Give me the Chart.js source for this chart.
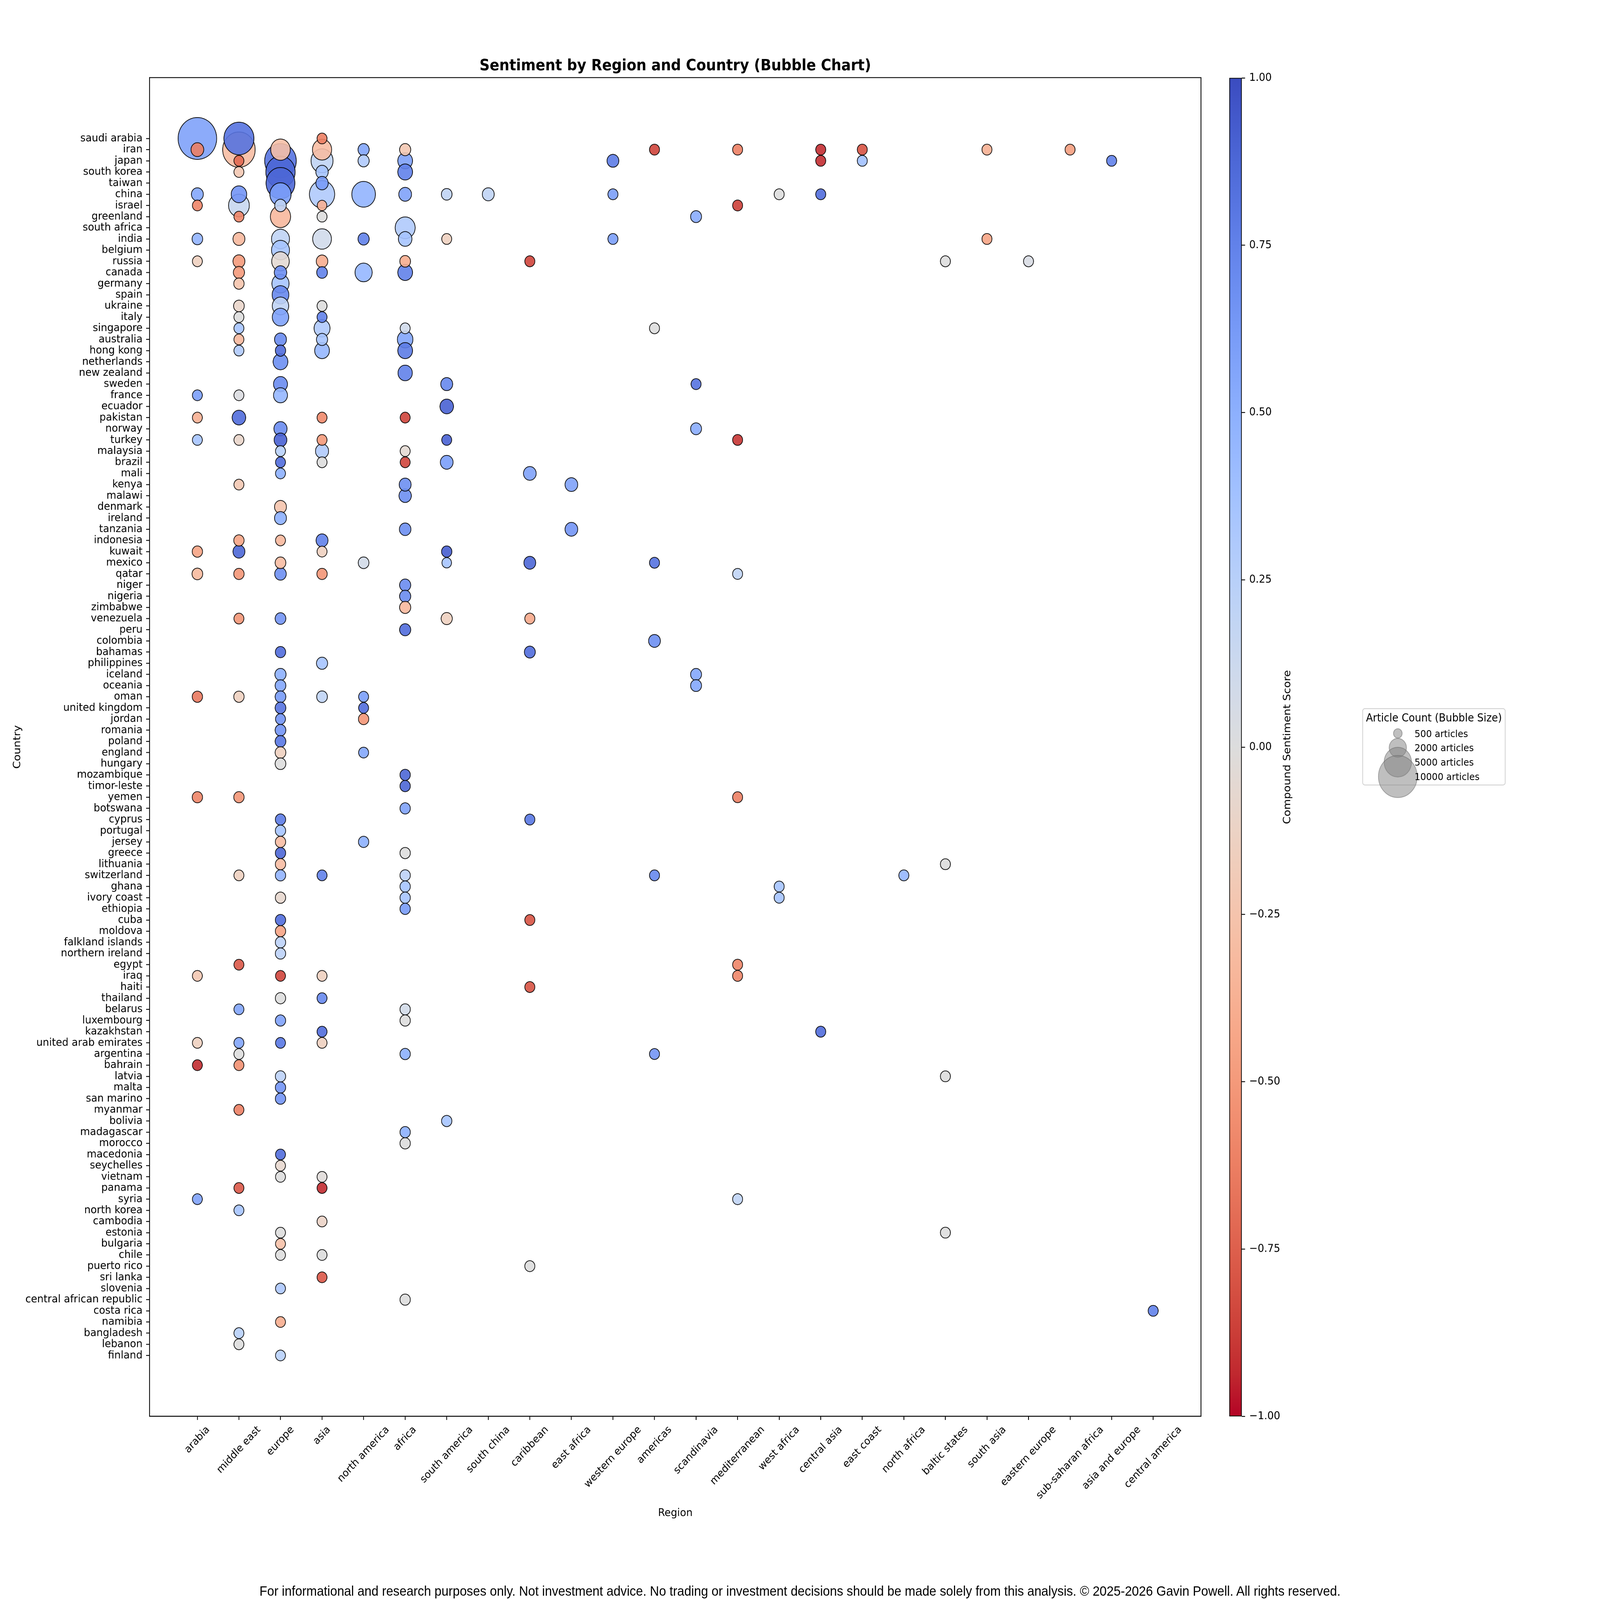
<!DOCTYPE html>
<html><head><meta charset="utf-8">
<script src="https://cdn.jsdelivr.net/npm/chart.js@4.4.1/dist/chart.umd.min.js"></script>
<style>
html,body{margin:0;padding:0;background:#fff;overflow:hidden;}
#wrap{position:relative;width:6600px;height:6080px;overflow:hidden;background:#fff;transform-origin:0 0;}
#main{position:absolute;left:0;top:0;}
#cbar{position:absolute;left:5000px;top:0;}
#overlay{position:absolute;left:0;top:0;pointer-events:none;}
</style></head>
<body><div id="wrap">
<canvas id="main" width="6600" height="6080"></canvas>
<canvas id="cbar" width="600" height="6080"></canvas>
<svg id="overlay" width="6600" height="6080" xmlns="http://www.w3.org/2000/svg"></svg>
</div>
<script>
// ---------------- DATA ----------------
const chartTitle = "Sentiment by Region and Country (Bubble Chart)";
const xTitle = "Region";
const yTitle = "Country";
const cbarTitle = "Compound Sentiment Score";
const legendTitle = "Article Count (Bubble Size)";
const legendCounts = [500, 2000, 5000, 10000];
const footerText = "For informational and research purposes only. Not investment advice. No trading or investment decisions should be made solely from this analysis. \u00A9 2025-2026 Gavin Powell. All rights reserved.";
const cbarTicks = [-1, -0.75, -0.5, -0.25, 0, 0.25, 0.5, 0.75, 1];

const regions = ["arabia","middle east","europe","asia","north america","africa","south america","south china","caribbean","east africa","western europe","americas","scandinavia","mediterranean","west africa","central asia","east coast","north africa","baltic states","south asia","eastern europe","sub-saharan africa","asia and europe","central america"];

const countries = ["saudi arabia","iran","japan","south korea","taiwan","china","israel","greenland","south africa","india","belgium","russia","canada","germany","spain","ukraine","italy","singapore","australia","hong kong","netherlands","new zealand","sweden","france","ecuador","pakistan","norway","turkey","malaysia","brazil","mali","kenya","malawi","denmark","ireland","tanzania","indonesia","kuwait","mexico","qatar","niger","nigeria","zimbabwe","venezuela","peru","colombia","bahamas","philippines","iceland","oceania","oman","united kingdom","jordan","romania","poland","england","hungary","mozambique","timor-leste","yemen","botswana","cyprus","portugal","jersey","greece","lithuania","switzerland","ghana","ivory coast","ethiopia","cuba","moldova","falkland islands","northern ireland","egypt","iraq","haiti","thailand","belarus","luxembourg","kazakhstan","united arab emirates","argentina","bahrain","latvia","malta","san marino","myanmar","bolivia","madagascar","morocco","macedonia","seychelles","vietnam","panama","syria","north korea","cambodia","estonia","bulgaria","chile","puerto rico","sri lanka","slovenia","central african republic","costa rica","namibia","bangladesh","lebanon","finland"];

// [country, compound sentiment, article count]
const arabiaPts = [["saudi arabia",0.58,9900],["iran",-0.62,1085],["china",0.55,955],["israel",-0.6,660],["india",0.47,760],["russia",-0.15,660],["france",0.6,660],["pakistan",-0.38,660],["turkey",0.36,660],["kuwait",-0.45,715],["qatar",-0.32,770],["oman",-0.65,715],["yemen",-0.6,715],["iraq",-0.22,660],["united arab emirates",-0.15,660],["bahrain",-0.93,660],["syria",0.58,660]];
const middleEastPts = [["saudi arabia",0.82,6000],["iran",-0.3,7030],["japan",-0.72,660],["south korea",-0.22,660],["china",0.65,1615],["israel",0.15,2880],["greenland",-0.6,660],["india",-0.33,955],["russia",-0.5,955],["canada",-0.5,830],["germany",-0.25,715],["ukraine",-0.1,770],["italy",0.0,660],["singapore",0.36,660],["australia",-0.33,660],["hong kong",0.3,660],["france",0.02,660],["pakistan",0.85,1225],["turkey",-0.1,660],["kenya",-0.22,660],["indonesia",-0.45,715],["kuwait",0.88,955],["qatar",-0.52,715],["venezuela",-0.52,660],["oman",-0.15,715],["yemen",-0.52,715],["switzerland",-0.15,660],["egypt",-0.78,660],["belarus",0.56,660],["united arab emirates",0.56,660],["argentina",0.0,660],["bahrain",-0.55,660],["myanmar",-0.62,660],["panama",-0.78,660],["north korea",0.36,660],["bangladesh",0.25,660],["lebanon",0.0,660]];
const europePts = [["iran",-0.28,2560],["japan",0.82,6640],["south korea",0.88,5690],["taiwan",0.88,5520],["china",0.6,2995],["israel",0.2,890],["greenland",-0.33,2720],["india",0.2,2155],["belgium",0.36,2155],["russia",-0.05,2060],["canada",0.68,1020],["germany",0.36,1970],["spain",0.72,1875],["ukraine",0.2,1790],["italy",0.58,1790],["australia",0.7,955],["hong kong",0.85,715],["netherlands",0.68,1455],["sweden",0.7,1300],["france",0.45,1300],["norway",0.7,1155],["turkey",0.9,1085],["malaysia",0.25,660],["brazil",0.85,660],["mali",0.5,660],["denmark",-0.25,955],["ireland",0.5,955],["indonesia",-0.33,660],["mexico",-0.3,770],["qatar",0.68,890],["venezuela",0.65,770],["bahamas",0.85,715],["iceland",0.5,830],["oceania",0.55,770],["oman",0.62,770],["united kingdom",0.82,770],["jordan",0.65,660],["romania",0.65,770],["poland",0.8,770],["england",-0.15,770],["hungary",0.0,770],["cyprus",0.78,715],["portugal",0.36,715],["jersey",-0.3,715],["greece",0.88,715],["lithuania",-0.3,715],["switzerland",0.47,715],["ivory coast",-0.08,715],["cuba",0.85,715],["moldova",-0.45,715],["falkland islands",0.22,715],["northern ireland",0.22,715],["iraq",-0.85,660],["thailand",0.0,715],["luxembourg",0.58,715],["united arab emirates",0.8,660],["latvia",0.22,715],["malta",0.65,715],["san marino",0.65,715],["macedonia",0.85,660],["seychelles",-0.08,660],["vietnam",0.0,660],["estonia",0.0,660],["bulgaria",-0.27,660],["chile",0.0,660],["slovenia",0.32,660],["namibia",-0.4,660],["finland",0.25,660]];
const asiaPts = [["saudi arabia",-0.62,660],["iran",-0.3,2455],["japan",0.2,3225],["south korea",0.36,1020],["taiwan",0.62,1020],["china",0.3,4230],["israel",-0.38,610],["greenland",0.0,660],["india",0.1,2350],["russia",-0.4,890],["canada",0.75,770],["ukraine",0.0,660],["italy",0.75,660],["singapore",0.3,1700],["australia",0.36,830],["hong kong",0.45,1455],["pakistan",-0.58,660],["turkey",-0.5,660],["malaysia",0.3,1155],["brazil",0.0,660],["indonesia",0.75,955],["kuwait",-0.15,660],["qatar",-0.52,715],["philippines",0.36,830],["oman",0.2,770],["switzerland",0.75,660],["iraq",-0.15,660],["thailand",0.72,660],["kazakhstan",0.85,660],["united arab emirates",-0.15,660],["vietnam",-0.02,660],["panama",-0.93,660],["cambodia",-0.12,660],["chile",0.0,660],["sri lanka",-0.78,660]];
const northAmericaPts = [["iran",0.56,830],["japan",0.3,830],["china",0.47,3710],["india",0.75,830],["canada",0.45,1970],["mexico",0.08,770],["oman",0.6,660],["united kingdom",0.85,660],["jordan",-0.52,715],["england",0.55,660],["jersey",0.5,715]];
const africaPts = [["iran",-0.22,830],["japan",0.58,1455],["south korea",0.75,1455],["china",0.58,1085],["south africa",0.3,2665],["india",0.36,1225],["russia",-0.4,770],["canada",0.75,1455],["singapore",0.1,660],["australia",0.56,1615],["hong kong",0.78,1455],["new zealand",0.75,1375],["pakistan",-0.85,660],["malaysia",-0.05,660],["brazil",-0.85,660],["kenya",0.68,955],["malawi",0.68,1020],["tanzania",0.68,890],["niger",0.7,830],["nigeria",0.7,830],["zimbabwe",-0.33,830],["peru",0.85,830],["mozambique",0.88,715],["timor-leste",0.88,715],["botswana",0.58,715],["greece",0.0,715],["switzerland",0.22,715],["ghana",0.36,715],["ivory coast",0.36,715],["ethiopia",0.62,715],["belarus",0.08,715],["luxembourg",0.0,715],["argentina",0.5,715],["madagascar",0.5,715],["morocco",0.0,715],["central african republic",0.0,715]];
const southAmericaPts = [["china",0.2,770],["india",-0.15,660],["sweden",0.72,955],["ecuador",0.9,1225],["turkey",0.9,660],["brazil",0.6,1085],["kuwait",0.92,715],["mexico",0.36,610],["venezuela",-0.15,830],["bolivia",0.36,715]];
const southChinaPts = [["china",0.2,955]];
const caribbeanPts = [["russia",-0.85,675],["mali",0.58,1075],["mexico",0.88,935],["venezuela",-0.42,675],["bahamas",0.85,800],["cyprus",0.8,675],["cuba",-0.8,675],["haiti",-0.8,675],["puerto rico",0.0,675]];
const eastAfricaPts = [["kenya",0.58,1075],["tanzania",0.65,1075]];
const westernEuropePts = [["japan",0.78,935],["china",0.6,675],["india",0.6,675]];
const americasPts = [["iran",-0.85,675],["singapore",0.0,675],["mexico",0.82,675],["colombia",0.68,935],["switzerland",0.72,675],["argentina",0.65,675]];
const scandinaviaPts = [["greenland",0.52,800],["sweden",0.82,675],["norway",0.52,800],["iceland",0.55,800],["oceania",0.55,800]];
const mediterraneanPts = [["iran",-0.62,675],["israel",-0.87,675],["turkey",-0.9,675],["qatar",0.2,675],["yemen",-0.62,675],["egypt",-0.6,675],["iraq",-0.6,675],["syria",0.2,675]];
const westAfricaPts = [["china",0.0,675],["ghana",0.36,675],["ivory coast",0.36,675]];
const centralAsiaPts = [["iran",-0.92,675],["japan",-0.92,675],["china",0.85,675],["kazakhstan",0.85,675]];
const eastCoastPts = [["iran",-0.8,675],["japan",0.38,675]];
const northAfricaPts = [["switzerland",0.45,675]];
const balticStatesPts = [["russia",0.0,675],["lithuania",0.0,675],["latvia",0.0,675],["estonia",0.0,675]];
const southAsiaPts = [["iran",-0.38,675],["india",-0.45,675]];
const easternEuropePts = [["russia",0.04,675]];
const subSaharanAfricaPts = [["iran",-0.48,675]];
const asiaAndEuropePts = [["japan",0.75,675]];
const centralAmericaPts = [["costa rica",0.75,675]];

const regionSeries = [arabiaPts, middleEastPts, europePts, asiaPts, northAmericaPts, africaPts, southAmericaPts, southChinaPts, caribbeanPts, eastAfricaPts, westernEuropePts, americasPts, scandinaviaPts, mediterraneanPts, westAfricaPts, centralAsiaPts, eastCoastPts, northAfricaPts, balticStatesPts, southAsiaPts, easternEuropePts, subSaharanAfricaPts, asiaAndEuropePts, centralAmericaPts];

// ---------------- STYLE ----------------
const FONT = "'DejaVu Sans', 'Noto Sans', sans-serif";
const BUBBLE_ALPHA = 0.9;
const XLABEL_SIZE = 40;
const coolwarm = [[59,76,192],[68,90,204],[77,104,215],[87,117,225],[98,130,234],[108,142,241],[119,154,247],[130,165,251],[141,176,254],[152,185,255],[163,194,255],[174,201,253],[184,208,249],[194,213,244],[204,217,238],[213,219,230],[221,221,221],[229,216,209],[236,211,197],[241,204,185],[245,196,173],[247,187,160],[247,177,148],[247,166,135],[244,154,123],[241,141,111],[236,127,99],[229,112,88],[222,96,77],[213,80,66],[203,62,56],[192,40,47],[180,4,38]];
function cmap(v) {
  let t = (1 - v) / 2; t = Math.max(0, Math.min(1, t));
  const p = t * (coolwarm.length - 1); const i = Math.min(Math.floor(p), coolwarm.length - 2); const f = p - i;
  const a = coolwarm[i], b = coolwarm[i + 1];
  return [0,1,2].map(k => Math.round(a[k] + (b[k] - a[k]) * f));
}
const sizeFor = n => 0.8 * Math.sqrt(n);

const pts = [];
regionSeries.forEach((arr, ri) => arr.forEach(([c, s, n]) => {
  const ci = countries.indexOf(c);
  if (ci >= 0) pts.push({x: ri, y: ci, r: sizeFor(n), s: s, n: n});
}));
pts.sort((a, b) => b.n - a.n);

const plotFrame = {
  id: 'plotFrame',
  afterDraw(chart) {
    const ctx = chart.ctx, area = chart.chartArea, xs = chart.scales.x;
    ctx.save();
    ctx.fillStyle = '#000';
    ctx.font = XLABEL_SIZE + "px " + FONT;
    ctx.textAlign = 'center'; ctx.textBaseline = 'middle';
    const h = XLABEL_SIZE * 1.1;
    regions.forEach((lab, i) => {
      const L = ctx.measureText(lab).width;
      const bh = (L + h) * Math.SQRT1_2;
      const cx = xs.getPixelForValue(i);
      const cy = area.bottom + 14.6 + 14.6 + bh / 2;
      ctx.save(); ctx.translate(cx, cy); ctx.rotate(-Math.PI / 4); ctx.fillText(lab, 0, 0); ctx.restore();
    });
    ctx.strokeStyle = '#000'; ctx.lineWidth = 3.3;
    ctx.strokeRect(area.left, area.top, area.right - area.left, area.bottom - area.top);
    ctx.restore();
  }
};

new Chart(document.getElementById('main'), {
  type: 'bubble',
  data: { datasets: [{
    data: pts.map(p => ({x: p.x, y: p.y, r: p.r})),
    backgroundColor: pts.map(p => { const c = cmap(p.s); return `rgba(${c[0]},${c[1]},${c[2]},${BUBBLE_ALPHA})`; }),
    borderColor: 'rgba(0,0,0,0.9)',
    borderWidth: 3
  }]},
  options: {
    responsive: false, animation: false, devicePixelRatio: 1, events: [],
    layout: { padding: { left: 47, top: 0, right: 1646, bottom: 305 } },
    plugins: {
      legend: { display: false }, tooltip: { enabled: false },
      title: { display: true, text: chartTitle, fullSize: false, color: '#000',
        font: { family: FONT, size: 58.3, weight: 'bold', lineHeight: 1.2 },
        padding: { top: 217, bottom: 8 } }
    },
    scales: {
      x: { type: 'linear', min: -1.15, max: 24.15,
        afterBuildTicks: s => { s.ticks = regions.map((_, i) => ({ value: i })); },
        afterFit: s => { s.height = 393; },
        ticks: { callback: () => '', autoSkip: false, padding: 0 },
        grid: { display: true, drawOnChartArea: false, drawTicks: true, tickLength: 14, tickWidth: 3.3, tickColor: '#000' },
        border: { display: true, color: '#000', width: 3.3 },
        title: { display: true, text: xTitle, color: '#000', font: { family: FONT, size: 41.7, lineHeight: 1.2 }, padding: 0 }
      },
      y: { type: 'linear', reverse: true, min: -5.45, max: 114.45,
        afterBuildTicks: s => { s.ticks = countries.map((_, i) => ({ value: i })); },
        afterFit: s => { s.width = 570; },
        ticks: { callback: v => countries[v] || '', autoSkip: false, padding: 15, color: '#000', font: { family: FONT, size: 41.7 } },
        grid: { display: true, drawOnChartArea: false, drawTicks: true, tickLength: 14, tickWidth: 3.3, tickColor: '#000' },
        border: { display: true, color: '#000', width: 3.3 },
        title: { display: true, text: yTitle, color: '#000', font: { family: FONT, size: 41.7, lineHeight: 1.2 }, padding: 0 }
      }
    }
  },
  plugins: [plotFrame]
});

const cbarLabel = {
  id: 'cbarLabel',
  afterDraw(chart) {
    const ctx = chart.ctx, a = chart.chartArea;
    ctx.save(); ctx.fillStyle = '#000'; ctx.font = "41.7px " + FONT;
    ctx.textAlign = 'center'; ctx.textBaseline = 'middle';
    ctx.translate(311, (a.top + a.bottom) / 2); ctx.rotate(-Math.PI / 2);
    ctx.fillText(cbarTitle, 0, 0); ctx.restore();
  }
};
new Chart(document.getElementById('cbar'), {
  type: 'bar',
  data: { labels: [''], datasets: [{
    data: [[-1, 1]],
    backgroundColor: c => {
      const a = c.chart.chartArea; if (!a) return '#888';
      const g = c.chart.ctx.createLinearGradient(0, a.top, 0, a.bottom);
      coolwarm.forEach((col, i) => g.addColorStop(i / (coolwarm.length - 1), `rgb(${col[0]},${col[1]},${col[2]})`));
      return g;
    },
    borderColor: '#000', borderWidth: 3, borderSkipped: false,
    barPercentage: 1, categoryPercentage: 1
  }]},
  options: {
    responsive: false, animation: false, devicePixelRatio: 1, events: [],
    layout: { padding: { left: 71, top: 296, right: 178, bottom: 698 } },
    plugins: { legend: { display: false }, tooltip: { enabled: false } },
    scales: {
      x: { display: false },
      y: { position: 'right', min: -1, max: 1,
        afterBuildTicks: s => { s.ticks = cbarTicks.map(v => ({ value: v })); },
        afterFit: s => { s.width = 300; },
        ticks: { callback: v => (v < 0 ? '\u2212' : '') + Math.abs(v).toFixed(2), color: '#000', padding: 17, font: { family: FONT, size: 41.7 } },
        grid: { display: true, drawOnChartArea: false, drawTicks: true, tickLength: 14, tickWidth: 3.3, tickColor: '#000' },
        border: { display: false }
      }
    }
  },
  plugins: [cbarLabel]
});

(function () {
  const NS = 'http://www.w3.org/2000/svg';
  const svg = document.getElementById('overlay');
  const el = (tag, attrs, text) => { const e = document.createElementNS(NS, tag); for (const k in attrs) e.setAttribute(k, attrs[k]); if (text != null) e.textContent = text; svg.appendChild(e); return e; };
  el('rect', { x: 5621, y: 2693, width: 588, height: 290, rx: 9, ry: 9, fill: 'rgba(255,255,255,0.8)', stroke: '#d2d2d2', 'stroke-width': 3.3 });
  el('text', { x: 5915, y: 2742, 'text-anchor': 'middle', 'font-family': 'DejaVu Sans', 'font-size': 41.7, fill: '#000' }, legendTitle);
  legendCounts.forEach((n, i) => {
    const cy = 2787 + i * 54.6;
    el('circle', { cx: 5766, cy: cy, r: sizeFor(n), fill: 'rgba(128,128,128,0.5)', stroke: 'rgba(100,100,100,0.5)', 'stroke-width': 3 });
  });
  legendCounts.forEach((n, i) => {
    const cy = 2787 + i * 54.6;
    el('text', { x: 5835, y: cy + 13.5, 'font-family': 'DejaVu Sans', 'font-size': 37.5, fill: '#000' }, n + ' articles');
  });
  el('text', { x: 3300, y: 6064, 'text-anchor': 'middle', 'font-family': "'Liberation Sans', Arial, sans-serif", 'font-size': 52, fill: '#000' }, footerText);
})();

// fit the 6600x6080 figure into whatever viewport the browser actually provides
(function () {
  const vw = window.innerWidth || document.documentElement.clientWidth;
  const vh = window.innerHeight || document.documentElement.clientHeight;
  const sx = vw / 6600, sy = vh / 6080;
  if (vw > 0 && vh > 0 && (Math.abs(sx - 1) > 0.005 || Math.abs(sy - 1) > 0.005)) {
    document.getElementById('wrap').style.transform = `scale(${sx}, ${sy})`;
  }
})();
</script></body></html>
